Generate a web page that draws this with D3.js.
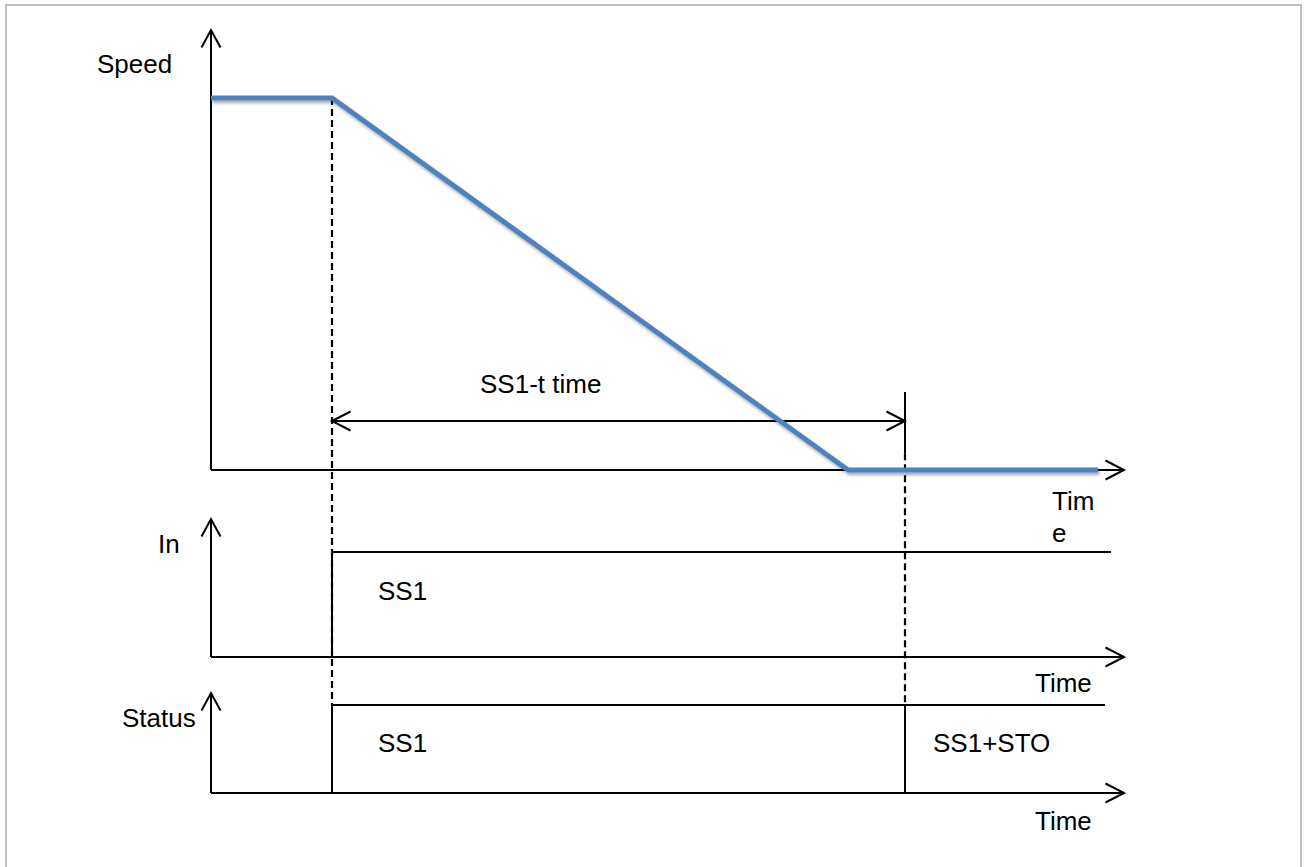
<!DOCTYPE html>
<html>
<head>
<meta charset="utf-8">
<script src="https://cdn.jsdelivr.net/npm/d3@7"></script>
<style>
html,body{margin:0;padding:0;background:#fff;}
svg{display:block;}
text{font-family:"Liberation Sans",Arial,sans-serif;font-size:26px;fill:#000;}
</style>
</head>
<body>
<svg id="chart" width="1307" height="867"></svg>
<script>
// ---- data (abstract time units 0..100) ----
const speedTimes  = [0, 13.25, 69.8, 97.2];
const speedValues = [1, 1, 0, 0];
const inTimes     = [13.25, 13.25, 98.6];
const inValues    = [0, 1, 1];
const ss1Times    = [13.25, 13.25, 76.0];
const ss1Values   = [0, 1, 1];
const stoTimes    = [76.0, 76.0, 97.9];
const stoValues   = [0, 1, 1];
const ss1tTimeSpan = [13.25, 76.0];
const ss1tLevel   = 0.132;
const panelLabels = ["Speed", "In", "Status"];
const timeLabel   = "Time";
const stateLabels = ["SS1", "SS1", "SS1+STO"];
const spanLabel   = "SS1-t time";

const svg = d3.select("#chart");

// border
svg.append("rect").attr("x",6).attr("y",5).attr("width",1295).attr("height",880)
  .attr("fill","none").attr("stroke","#bfbfbf").attr("stroke-width",2);

// shadow filter
const defs = svg.append("defs");
const f = defs.append("filter").attr("id","shadow").attr("x","-5%").attr("y","-5%").attr("width","110%").attr("height","120%");
f.append("feDropShadow").attr("dx",1.5).attr("dy",2.5).attr("stdDeviation",1.8)
  .attr("flood-color","#000").attr("flood-opacity",0.35);

// scales
const x = d3.scaleLinear().domain([0,100]).range([211,1124]);
const ySpeed  = d3.scaleLinear().domain([0,1.183]).range([470,30]);
const yIn     = d3.scaleLinear().domain([0,1.314]).range([657,519]);
const yStatus = d3.scaleLinear().domain([0,1.136]).range([793,693]);

const line = (ys) => d3.line().x(d=>Math.round(x(d[0]))).y(d=>Math.round(ys(d[1])));

function arrowV(xp, yp){ // tip up
  return `M${xp-9.5},${yp+17.5}L${xp},${yp}L${xp+9.5},${yp+17.5}`;
}
function arrowH(xp, yp, dir){ // dir 1 right, -1 left
  return `M${xp-dir*18.5},${yp-9.5}L${xp},${yp}L${xp-dir*18.5},${yp+9.5}`;
}

const axisG = svg.append("g").attr("stroke","#000").attr("stroke-width",2).attr("fill","none");
function drawAxes(ys){
  const [y0, yTop] = [ys(0), ys(ys.domain()[1])];
  axisG.append("path").attr("d", `M${x(0)},${y0}L${x(0)},${yTop}`);
  axisG.append("path").attr("d", arrowV(x(0), yTop));
  axisG.append("path").attr("d", `M${x(0)},${y0}L${x(100)},${y0}`);
  axisG.append("path").attr("d", arrowH(x(100), y0, 1));
}
[ySpeed, yIn, yStatus].forEach(drawAxes);

// dashed guides
const dashG = svg.append("g").attr("stroke","#000").attr("stroke-width",2.2).attr("stroke-dasharray","7,4").attr("fill","none");
const gx1 = Math.round(x(speedTimes[1])), gx2 = Math.round(x(ss1tTimeSpan[1]));
dashG.append("line").attr("x1",gx1).attr("x2",gx1)
  .attr("y1",ySpeed(1)).attr("y2",yStatus(1));
dashG.append("line").attr("x1",gx2).attr("x2",gx2)
  .attr("y1",ySpeed(0.045)).attr("y2",yStatus(1));

// span annotation
const annG = svg.append("g").attr("stroke","#000").attr("stroke-width",2).attr("fill","none");
const ay = Math.round(ySpeed(ss1tLevel));
annG.append("line").attr("x1",gx1).attr("x2",gx2).attr("y1",ay).attr("y2",ay);
annG.append("path").attr("d", arrowH(gx1, ay, -1));
annG.append("path").attr("d", arrowH(gx2, ay, 1));
annG.append("line").attr("x1",gx2).attr("x2",gx2)
  .attr("y1",ySpeed(0.21)).attr("y2",ySpeed(0.045));

// signals
const sigG = svg.append("g").attr("stroke","#000").attr("stroke-width",2).attr("fill","none");
sigG.append("path").attr("d", line(yIn)(d3.zip(inTimes,inValues)));
sigG.append("path").attr("d", line(yStatus)(d3.zip(ss1Times,ss1Values)));
sigG.append("path").attr("d", line(yStatus)(d3.zip(stoTimes,stoValues)));

// speed curve
svg.append("path").attr("d", line(ySpeed)(d3.zip(speedTimes,speedValues)))
  .attr("fill","none").attr("stroke","#4F81BD").attr("stroke-width",5)
  .attr("stroke-linejoin","miter").attr("filter","url(#shadow)");

// texts
const T = (s,xp,yp)=>svg.append("text").attr("x",xp).attr("y",yp).text(s);
T(panelLabels[0], 97, 73);
T(panelLabels[1], 158, 553);
T(panelLabels[2], 122, 727);
T(spanLabel, 480, 393);
T("Tim", 1052, 510);
T("e", 1052, 542);
T(timeLabel, 1035, 692);
T(timeLabel, 1035, 830);
T(stateLabels[0], 378, 600);
T(stateLabels[1], 378, 752);
T(stateLabels[2], 933, 752);
</script>
</body>
</html>
